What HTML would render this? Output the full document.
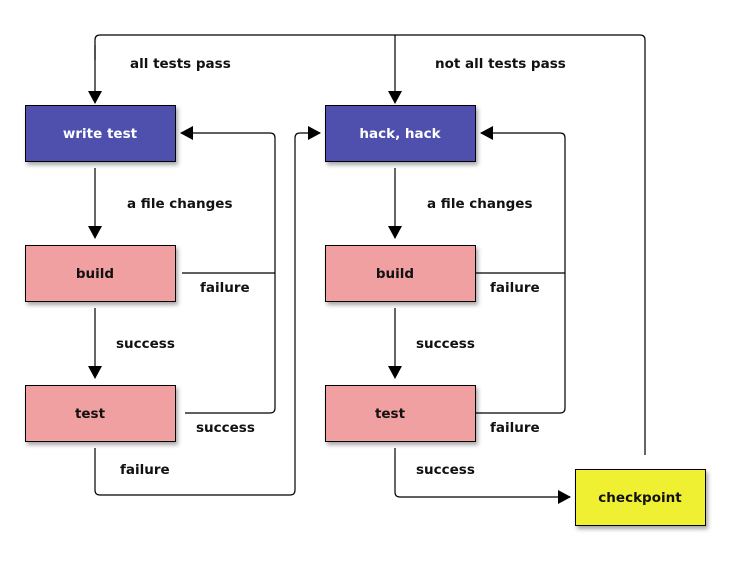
<!DOCTYPE html>
<html><head><meta charset="utf-8"><style>
body{margin:0;background:#fff}
svg text{font-family:"DejaVu Sans","Liberation Sans",sans-serif;font-weight:bold;font-size:13.5px;fill:#111}
</style></head><body>
<svg width="730" height="560" viewBox="0 0 730 560" xmlns="http://www.w3.org/2000/svg">
<defs>
<marker id="a" markerWidth="13" markerHeight="14" refX="12" refY="7" orient="auto" markerUnits="userSpaceOnUse"><path d="M0,0 L13,7 L0,14 z" fill="#000"/></marker>
<filter id="s" x="-10%" y="-10%" width="130%" height="140%"><feDropShadow dx="2" dy="3" stdDeviation="2" flood-color="#000" flood-opacity="0.35"/></filter>
</defs>
<g fill="none" stroke="#000" stroke-width="1.2">
<path d="M95,60 V40 Q95,35 100,35 H640 Q645,35 645,40 V455"/>
<path d="M95,45 V103" marker-end="url(#a)"/>
<path d="M395,35 V103" marker-end="url(#a)"/>
<path d="M95,168 V238" marker-end="url(#a)"/>
<path d="M95,308 V378" marker-end="url(#a)"/>
<path d="M395,168 V238" marker-end="url(#a)"/>
<path d="M395,308 V378" marker-end="url(#a)"/>
<path d="M182,273 H275"/>
<path d="M185,413 H270 Q275,413 275,408 V138 Q275,133 270,133 H181" marker-end="url(#a)"/>
<path d="M95,448 V490 Q95,495 100,495 H290 Q295,495 295,490 V138 Q295,133 300,133 H320" marker-end="url(#a)"/>
<path d="M475,273 H565"/>
<path d="M475,413 H560 Q565,413 565,408 V138 Q565,133 560,133 H481" marker-end="url(#a)"/>
<path d="M395,448 V492 Q395,497 400,497 H570" marker-end="url(#a)"/>
</g>
<g stroke="#000" stroke-width="1" filter="url(#s)">
<rect x="25.5" y="105.5" width="150" height="56" fill="#5050ad"/>
<rect x="325.5" y="105.5" width="150" height="56" fill="#5050ad"/>
<rect x="25.5" y="245.5" width="150" height="56" fill="#f0a0a0"/>
<rect x="325.5" y="245.5" width="150" height="56" fill="#f0a0a0"/>
<rect x="25.5" y="385.5" width="150" height="56" fill="#f0a0a0"/>
<rect x="325.5" y="385.5" width="150" height="56" fill="#f0a0a0"/>
<rect x="575.5" y="469.5" width="130" height="56" fill="#f0f030"/>
</g>
<g text-anchor="middle">
<text x="100" y="138" style="fill:#fff">write test</text>
<text x="400" y="138" style="fill:#fff">hack, hack</text>
<text x="95" y="278">build</text>
<text x="395" y="278">build</text>
<text x="90" y="418">test</text>
<text x="390" y="418">test</text>
<text x="640" y="502">checkpoint</text>
</g>
<text x="130" y="68">all tests pass</text>
<text x="435" y="68">not all tests pass</text>
<text x="127" y="208">a file changes</text>
<text x="427" y="208">a file changes</text>
<text x="200" y="292">failure</text>
<text x="490" y="292">failure</text>
<text x="116" y="348">success</text>
<text x="416" y="348">success</text>
<text x="196" y="432">success</text>
<text x="490" y="432">failure</text>
<text x="120" y="474">failure</text>
<text x="416" y="474">success</text>
</svg>
</body></html>
